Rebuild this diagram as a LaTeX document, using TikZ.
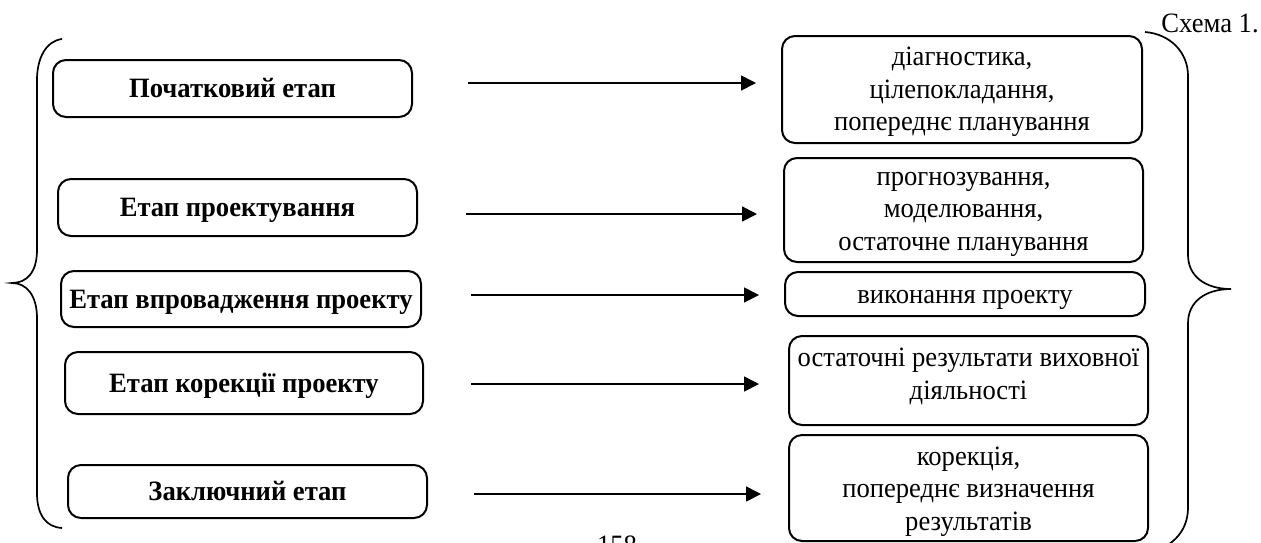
\documentclass[tikz,border=0pt]{standalone}
\usepackage{fontspec}
\setmainfont[FakeStretch=0.95]{Liberation Serif}
\usetikzlibrary{arrows.meta,calc}
\newcommand{\boxtext}[2]{\raisebox{#1}[\height][\depth]{\begin{tabular}{@{}c@{}}#2\end{tabular}}}
\begin{document}
\begin{tikzpicture}[x=0.5pt,y=-0.5pt,
  box/.style={draw,line width=1pt,rounded corners=6.5pt,inner sep=0pt},
  lbox/.style={box,font=\fontsize{14pt}{16.25pt}\selectfont\bfseries},
  rbox/.style={box,font=\fontsize{14pt}{16.25pt}\selectfont},
  arr/.style={line width=0.85pt,-{Triangle[length=7.5pt,width=7.5pt]}},
  brace/.style={line width=0.85pt},
  plain/.style={inner sep=0pt,font=\fontsize{14pt}{16pt}\selectfont}]
\useasboundingbox (0,0) rectangle (1261,542);
\clip (0,0) rectangle (1261,542);
% left column
\node[lbox,minimum width=179.5pt,minimum height=28.5pt] (L1) at (232.5,88.5) {\boxtext{-1.3pt}{Початковий етап}};
\node[lbox,minimum width=179.5pt,minimum height=28.5pt] (L2) at (237.5,207.5) {\boxtext{-1.3pt}{Етап проектування}};
\node[lbox,minimum width=180pt,minimum height=28pt] (L3) at (241,299) {\boxtext{-1.3pt}{Етап впровадження проекту}};
\node[lbox,minimum width=179pt,minimum height=31pt] (L4) at (244,383) {\boxtext{-1.3pt}{Етап корекції проекту}};
\node[lbox,minimum width=179.5pt,minimum height=26.5pt] (L5) at (247.5,491.5) {\boxtext{-1.3pt}{Заключний етап}};
% right column
\node[rbox,minimum width=180pt,minimum height=53.5pt] (R1) at (962,89.5) {\boxtext{-1pt}{діагностика,\\цілепокладання,\\попереднє планування}};
\node[rbox,minimum width=179.5pt,minimum height=52pt] (R2) at (963.5,210) {\boxtext{-0.5pt}{прогнозування,\\моделювання,\\остаточне планування}};
\node[rbox,minimum width=180pt,minimum height=22pt] (R3) at (965,294) {\boxtext{-1.5pt}{виконання проекту}};
\node[rbox,minimum width=179.5pt,minimum height=44.5pt] (R4) at (968.5,380.5) {\boxtext{2pt}{остаточні результати виховної\\діяльності}};
\node[rbox,minimum width=179.5pt,minimum height=53pt] (R5) at (968.5,488) {\boxtext{-1.5pt}{корекція,\\попереднє визначення\\результатів}};
% arrows
\draw[arr] ([shift={(55,-5.5)}]L1.east) coordinate (s1) -- ($(s1 -| R1.west)+(-25,0)$);
\draw[arr] ([shift={(48,6.5)}]L2.east) coordinate (s2) -- ($(s2 -| R2.west)+(-26,0)$);
\draw[arr] ([shift={(49,-4)}]L3.east) coordinate (s3) -- ($(s3 -| R3.west)+(-25,0)$);
\draw[arr] ([shift={(47,1)}]L4.east) coordinate (s4) -- ($(s4 -| R4.west)+(-29,0)$);
\draw[arr] ([shift={(46,2.5)}]L5.east) coordinate (s5) -- ($(s5 -| R5.west)+(-27,0)$);
% braces
\draw[brace] (62,39) .. controls (46,41) and (37,58) .. (37,80) -- (37,250)
  .. controls (37,272) and (27,283) .. (12,283)
  .. controls (27,283) and (37,296) .. (37,318) -- (37,493)
  .. controls (37,515) and (46,527) .. (62,528);
\draw[brace] (1145,32) .. controls (1170,34) and (1188,52) .. (1188,76) -- (1188,255)
  .. controls (1188,276) and (1205,289) .. (1231,289)
  .. controls (1205,289) and (1188,302) .. (1188,323) -- (1188,507)
  .. controls (1188,526) and (1179,539) .. (1163,548);
% labels
\node[plain,anchor=base west] (schema) at (1161,32) {Схема 1.};
\node[plain,anchor=base] (page) at (617,554) {158};
\end{tikzpicture}
\end{document}
